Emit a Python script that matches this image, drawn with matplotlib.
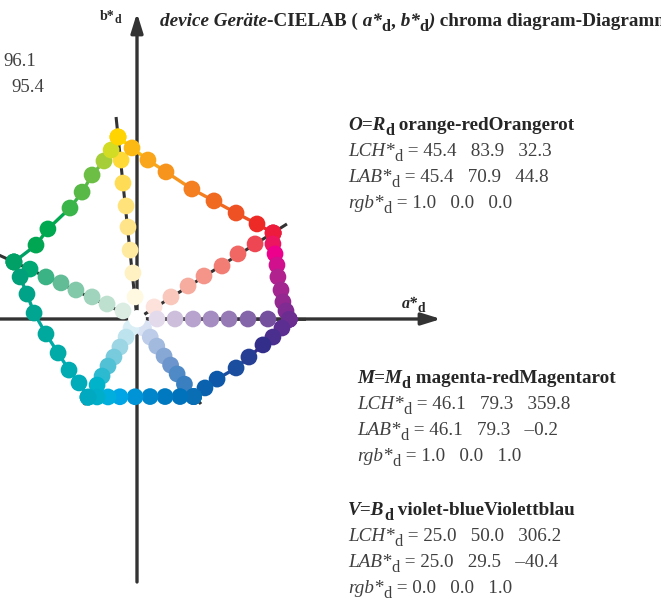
import matplotlib
matplotlib.use('Agg')
import matplotlib.pyplot as plt

W, H = 661, 599
PX = 1.92           # pixels per CIELAB unit
OX, OY = 137, 319   # origin (a*=0, b*=0) in pixels

# ── hexagon edges, corner to corner (a*, b*) ─────────────────────────────────
YR_A = [-9.9, -2.6, 5.7, 15.1, 28.6, 40.1, 51.6, 62.5, 70.9]
YR_B = [94.8, 89.1, 82.8, 76.6, 67.7, 61.5, 55.2, 49.5, 44.8]
YR_C = ['#FFD400', '#FDB913', '#F9A61C', '#F7941D', '#F47F21', '#F16A22', '#EE5124', '#EE2A26', '#ED1C3C']

RM_A = [70.9, 70.8, 71.9, 72.9, 73.4, 75.0, 76.0, 77.6, 79.3]
RM_B = [44.8, 39.1, 33.9, 28.1, 21.9, 15.1, 8.9, 4.2, -0.2]
RM_C = ['#ED1C3C', '#EC1560', '#EC008C', '#D0108C', '#B1228F', '#A3258F', '#922890', '#7F2B91', '#6C2D91']

MB_A = [79.3, 75.5, 70.8, 65.6, 58.3, 51.6, 41.7, 35.4, 29.5]
MB_B = [-0.2, -4.7, -9.4, -13.5, -19.8, -25.5, -31.3, -35.9, -40.4]
MB_C = ['#6C2D91', '#5C2E91', '#4B2F8F', '#342E8B', '#263F95', '#1B4E9F', '#0D58A8', '#0A62AF', '#0A6EB5']

BC_A = [29.5, 22.4, 14.6, 6.8, -1.0, -8.9, -15.1, -20.8, -25.5]
BC_B = [-40.4, -40.4, -40.4, -40.4, -40.5, -40.5, -40.6, -40.6, -40.7]
BC_C = ['#0A6EB5', '#0072BC', '#0079C1', '#0085CA', '#0093D5', '#00A5E5', '#00AEDD', '#00AECA', '#00A9C0']

CG_A = [-25.5, -30.2, -35.4, -41.1, -47.4, -53.6, -57.3, -60.9, -64.1]
CG_B = [-40.7, -33.3, -26.6, -17.7, -7.8, 3.1, 13.0, 21.9, 29.7]
CG_C = ['#00A9C0', '#00ABBA', '#00ABB2', '#00ABA8', '#00A99D', '#00A592', '#00A387', '#00A07A', '#00A066']

GY_A = [-64.1, -52.6, -46.4, -34.9, -28.6, -23.4, -17.2, -13.5, -9.9]
GY_B = [29.7, 38.5, 46.9, 57.8, 66.1, 75.0, 82.3, 88.0, 94.8]
GY_C = ['#00A066', '#00A651', '#00A94F', '#39B54A', '#58B947', '#6DBE45', '#A6CE39', '#D3DC24', '#FFD400']

# ── tint rays, white centre to corner ────────────────────────────────────────
RY_A = [0, -1.0, -2.1, -3.6, -4.7, -5.7, -7.3, -8.3, -9.9]
RY_B = [0, 11.5, 24.0, 35.9, 47.9, 58.9, 70.8, 82.8, 94.8]
RY_C = ['#FFFFFF', '#FEF9E0', '#FFF1C1', '#FFEAA0', '#FFE48A', '#FFE27A', '#FFDC55', '#FFD935', '#FFD400']

RR_A = [0, 8.9, 17.7, 26.6, 34.9, 44.3, 52.6, 61.5, 70.9]
RR_B = [0, 6.3, 11.5, 17.2, 22.4, 27.6, 33.9, 39.1, 44.8]
RR_C = ['#FFFFFF', '#FDE1DB', '#F9C7BB', '#F7ACA0', '#F5958A', '#F27D75', '#F06764', '#EE4753', '#ED1C3C']

RM2_A = [0, 10.4, 19.8, 29.2, 38.5, 47.9, 57.8, 68.2, 79.3]
RM2_B = [0, 0, 0, 0, 0, 0, 0, 0, -0.2]
RM2_C = ['#FFFFFF', '#E3DAEC', '#CDBFDC', '#B8A3CE', '#A68DC1', '#957AB5', '#8565AA', '#75509F', '#6C2D91']

RB_A = [0, 3.4, 6.9, 10.3, 14.1, 17.5, 20.9, 24.7, 29.5]
RB_B = [0, -4.7, -9.4, -14.1, -19.3, -24.0, -28.6, -33.9, -40.4]
RB_C = ['#FFFFFF', '#D8E2F2', '#BDCDE9', '#A3BADF', '#87A7D5', '#6B95CC', '#508AC6', '#3A80C1', '#0A6EB5']

RC_A = [0, -3.1, -5.7, -8.9, -12.0, -15.1, -18.2, -20.8, -25.5]
RC_B = [0, -4.7, -9.4, -14.6, -19.8, -24.5, -29.7, -34.4, -40.7]
RC_C = ['#FFFFFF', '#D9EFF5', '#BCE3EE', '#9CD6E5', '#78CBDD', '#53C1D5', '#2BBAD0', '#00B3CB', '#00A9C0']

RG_A = [0, -7.3, -15.6, -23.4, -31.8, -39.6, -47.4, -55.7, -64.1]
RG_B = [0, 4.2, 7.8, 11.5, 15.1, 18.8, 21.9, 26.0, 29.7]
RG_C = ['#FFFFFF', '#DBEDE3', '#BEE1CF', '#A0D4BC', '#82C9A9', '#62BD97', '#3CB384', '#00A874', '#00A066']

# dark guide lines from the centre run a little past each corner
RAY_END_A = [-10.9, 78.1, 88.0, 33.3, -27.6, -80.1]
RAY_END_B = [105.2, 49.5, -0.2, -44.3, -44.8, 37.1]

EDGES = [(YR_A, YR_B, YR_C), (RM_A, RM_B, RM_C), (MB_A, MB_B, MB_C),
         (BC_A, BC_B, BC_C), (CG_A, CG_B, CG_C), (GY_A, GY_B, GY_C)]
RAYS = [(RY_A, RY_B, RY_C), (RR_A, RR_B, RR_C), (RM2_A, RM2_B, RM2_C),
        (RB_A, RB_B, RB_C), (RC_A, RC_B, RC_C), (RG_A, RG_B, RG_C)]

AXIS = '#333333'
TXT = '#404040'
HEAD = '#262626'
SERIF = 'Liberation Serif'

fig = plt.figure(figsize=(W / 100, H / 100), dpi=100)
ax = fig.add_axes([0, 0, 1, 1])
ax.set_xlim(-OX / PX, (W - OX) / PX)
ax.set_ylim((OY - H) / PX, OY / PX)
ax.axis('off')

# axes with arrows
arrow = dict(arrowstyle='-|>,head_length=0.58,head_width=0.18', lw=2.4, color=AXIS,
             mutation_scale=20, shrinkA=0, shrinkB=0)
ax.annotate('', xy=(0, (OY - 13) / PX), xytext=(0, (OY - 582) / PX), arrowprops=arrow, zorder=1)
ax.annotate('', xy=((441 - OX) / PX, 0), xytext=(-OX / PX - 2, 0), arrowprops=arrow, zorder=1)

for ea, eb in zip(RAY_END_A, RAY_END_B):
    ax.plot([0, ea], [0, eb], color=AXIS, lw=2.2, solid_capstyle='butt', zorder=2)

for a, b, c in EDGES:
    for i in range(len(a) - 1):
        ax.plot(a[i:i + 2], b[i:i + 2], color=c[i], lw=2.4, zorder=2)

for a, b, c in RAYS + EDGES:
    ax.scatter(a, b, s=145, c=c, linewidths=0, zorder=3)

renderer = fig.canvas.get_renderer()


def rich(x, y, pieces, size, color=TXT):
    """Draw text pieces one after another; x, y = left baseline in pixels."""
    for s, kind in pieces:
        sub = 's' in kind
        fs = size * 0.85 if sub else size
        dy = size * 0.25 * 100 / 72 if sub else 0
        t = fig.text(x / W, 1 - (y + dy) / H, s, fontsize=fs, family=SERIF,
                     fontweight='bold' if 'b' in kind else 'normal',
                     fontstyle='italic' if 'i' in kind else 'normal',
                     color=color, va='baseline', ha='left')
        x += t.get_window_extent(renderer).width


rich(160, 26, [('device Geräte', 'bi'), ('-CIELAB (', 'b'), (' a*', 'bi'), ('d', 'bs'),
               (',', 'b'), (' b*', 'bi'), ('d', 'bs'), (')', 'bi'),
               (' chroma diagram-Diagramm', 'b')], 13.8, HEAD)
rich(100, 20, [('b*', 'b'), ('d', 'bs')], 10, HEAD)
rich(402, 308, [('a*', 'bi'), ('d', 'bs')], 11.5, HEAD)

rich(3, 66, [('96.1', 'r')], 13.5)
rich(11, 92, [('95.4', 'r')], 13.5)

BLOCKS = [
    (348, 130, 'O=R', ' orange-redOrangerot',
     ['45.4   83.9   32.3', '45.4   70.9   44.8', '1.0   0.0   0.0']),
    (357, 383, 'M=M', ' magenta-redMagentarot',
     ['46.1   79.3   359.8', '46.1   79.3   \u20130.2', '1.0   0.0   1.0']),
    (348, 515, 'V=B', ' violet-blueViolettblau',
     ['25.0   50.0   306.2', '25.0   29.5   \u201340.4', '0.0   0.0   1.0']),
]
for x, y, key, name, vals in BLOCKS:
    rich(x, y, [(key, 'bi'), ('d', 'bs'), (name, 'b')], 13.8, HEAD)
    for k, (lab, v) in enumerate(zip(['LCH*', 'LAB*', 'rgb*'], vals)):
        rich(x, y + 26 * (k + 1), [(lab, 'i'), ('d', 's'), (' = ' + v, 'r')], 13.8)

fig.savefig('out.png', dpi=100)
